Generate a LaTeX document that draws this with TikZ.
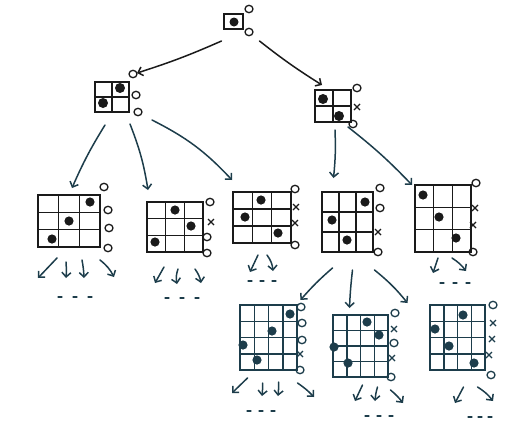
\documentclass[tikz,border=0pt]{standalone}
\usetikzlibrary{arrows.meta}
\definecolor{ink}{HTML}{1A1A1A}
\definecolor{teal}{HTML}{1D3D4B}
\tikzset{
  boardbox/.style={draw, line width=1.8pt, inner sep=0pt, outer sep=0pt},
  gridline/.style={line width=1.5pt},
  mk/.style={line width=1.3pt},
  arr/.style={line width=1.5pt, -{Straight Barb[length=4.5pt,width=9pt]}, line cap=round},
  dashes/.style={line width=1.1pt, line cap=round},
}
% board: name, x1, y1, x2, y2, n, colour
\newcommand\qboard[7]{%
  \node[boardbox, draw=#7, minimum width={(#4-#2)*1pt}, minimum height={(#5-#3)*1pt}]
    (#1) at ({(#2+#4)/2},{(#3+#5)/2}) {};
  \pgfmathtruncatemacro\qn{#6-1}
  \ifnum\qn>0
  \foreach \i in {1,...,\qn}{
    \draw[gridline, #7] ({#2+\i*(#4-#2)/#6},#3) -- ({#2+\i*(#4-#2)/#6},#5);
    \draw[gridline, #7] (#2,{#3+\i*(#5-#3)/#6}) -- (#4,{#3+\i*(#5-#3)/#6});
  }\fi
}
\newcommand\qdots[3]{\foreach \p in {#3}{\fill[#1] \p circle (#2);}}
\newcommand\qo[3]{\draw[mk,#1] (#2,#3) ellipse (4 and 3.7);}
\newcommand\qx[3]{\draw[mk,#1] (#2-3,#3-3) -- (#2+3,#3+3) (#2-3,#3+3) -- (#2+3,#3-3);}
% three dashes: colour, x, y, width of span
\newcommand\qdash[4]{\foreach \k in {0,1,2}{\draw[dashes,#1] ({#2+\k*#4/2-2},#3) -- ({#2+\k*#4/2+2},#3);}}
\begin{document}
\begin{tikzpicture}[x=1pt,y=-1pt]
\useasboundingbox (0,0) rectangle (506,437);
% root
\qboard{root}{224}{14}{243}{29}{1}{ink}
\qdots{ink}{4.5}{(234,22)}
\qo{ink}{249}{9} \qo{ink}{249}{32}
% level 1
\qboard{la}{95}{82}{129}{112}{2}{ink}
\qdots{ink}{5}{(120,88),(103,103)}
\qo{ink}{133}{74} \qo{ink}{136}{95} \qo{ink}{138}{112}
\qboard{lb}{315}{90}{351}{122}{2}{ink}
\qdots{ink}{5}{(323,99),(339,116)}
\qo{ink}{357}{88} \qx{ink}{357}{107} \qo{ink}{353}{124}
% level 2
\qboard{ba}{38}{195}{100}{247}{3}{ink}
\qdots{ink}{4.6}{(90,202),(69,221),(52,239)}
\qo{ink}{104}{187} \qo{ink}{108}{210} \qo{ink}{109}{228} \qo{ink}{108}{248}
\qboard{bb}{147}{202}{203}{252}{3}{ink}
\qdots{ink}{4.6}{(175,210),(191,226),(155,242)}
\qo{ink}{210}{202} \qx{ink}{211}{222} \qo{ink}{207}{237} \qo{ink}{207}{253}
\qboard{bc}{233}{192}{291}{243}{3}{ink}
\qdots{ink}{4.6}{(261,200),(245,217),(278,233)}
\qo{ink}{295}{189} \qx{ink}{296}{207} \qx{ink}{295}{223} \qo{ink}{295}{245}
\qboard{bd}{322}{192}{373}{252}{3}{ink}
\qdots{ink}{4.6}{(365,202),(332,220),(347,240)}
\qo{ink}{380}{188} \qo{ink}{380}{208} \qx{ink}{378}{232} \qo{ink}{378}{252}
\qboard{be}{415}{185}{471}{252}{3}{ink}
\qdots{ink}{4.6}{(423,195),(439,217),(456,238)}
\qo{ink}{476}{183} \qx{ink}{475}{208} \qx{ink}{473}{225} \qo{ink}{473}{252}
% level 3
\qboard{ca}{240}{305}{297}{370}{4}{teal}
\qdots{teal}{4.6}{(290,314),(272,331),(243,345),(257,360)}
\qo{teal}{301}{307} \qo{teal}{302}{323} \qo{teal}{302}{340} \qx{teal}{300}{354} \qo{teal}{300}{370}
\qboard{cb}{333}{315}{388}{377}{4}{teal}
\qdots{teal}{4.6}{(367,322),(379,335),(334,347),(348,363)}
\qo{teal}{395}{313} \qx{teal}{394}{329} \qo{teal}{394}{343} \qx{teal}{392}{358} \qo{teal}{391}{377}
\qboard{cc}{430}{305}{485}{370}{4}{teal}
\qdots{teal}{4.6}{(463,315),(435,329),(449,346),(474,363)}
\qo{teal}{493}{305} \qx{teal}{493}{323} \qx{teal}{492}{339} \qx{teal}{489}{355} \qo{teal}{491}{375}
% arrows root -> level 1
\draw[arr, ink] ([xshift=-12pt,yshift=-12pt]root.south) to[bend left=3] ([xshift=25pt,yshift=9pt]la.north);
\draw[arr, ink] ([xshift=26pt,yshift=-12pt]root.south) to[bend right=3] ([xshift=-11pt,yshift=5pt]lb.north);
% level 1 -> level 2
\draw[arr, teal] ([xshift=-7pt,yshift=-13pt]la.south) to[bend right=4] ([xshift=3pt,yshift=7pt]ba.north);
\draw[arr, teal] ([xshift=18pt,yshift=-12pt]la.south) to[bend left=6] ([xshift=-27pt,yshift=12pt]bb.north);
\draw[arr, teal] ([xshift=40pt,yshift=-8pt]la.south) to[bend left=10] ([xshift=-30pt,yshift=12pt]bc.north);
\draw[arr, teal] ([xshift=2pt,yshift=-8pt]lb.south) to[bend left=4] ([xshift=-14pt,yshift=14pt]bd.north);
\draw[arr, teal] ([xshift=15pt,yshift=-5pt]lb.south) to[bend left=4] ([xshift=-31pt,yshift=0pt]be.north);
% level 2 -> level 3
\draw[arr, teal] ([xshift=-15pt,yshift=-16pt]bd.south) to[bend right=4] ([xshift=32pt,yshift=5pt]ca.north);
\draw[arr, teal] ([xshift=5pt,yshift=-18pt]bd.south) to[bend right=2] ([xshift=-11pt,yshift=7pt]cb.north);
\draw[arr, teal] ([xshift=27pt,yshift=-18pt]bd.south) to[bend left=6] ([xshift=47pt,yshift=12pt]cb.north);
% leaf arrows
\coordinate (a1) at (38,278); \coordinate (a2) at (66,278); \coordinate (a3) at (84,278); \coordinate (a4) at (114,277);
\draw[arr, teal] ([xshift=-12pt,yshift=-11pt]ba.south) -- (a1);
\draw[arr, teal] ([xshift=-3pt,yshift=-15pt]ba.south) to[bend left=4] (a2);
\draw[arr, teal] ([xshift=13pt,yshift=-13pt]ba.south) to[bend left=4] (a3);
\draw[arr, teal] ([xshift=31pt,yshift=-13pt]ba.south) to[bend left=12] (a4);
\qdash{teal}{60}{297}{30}
\coordinate (b1) at (155,283); \coordinate (b2) at (177,284); \coordinate (b3) at (201,283);
\draw[arr, teal] ([xshift=-11pt,yshift=-15pt]bb.south) -- (b1);
\draw[arr, teal] ([xshift=3pt,yshift=-17pt]bb.south) to[bend right=15] (b2);
\draw[arr, teal] ([xshift=20pt,yshift=-17pt]bb.south) to[bend left=12] (b3);
\qdash{teal}{167}{298}{30}
\coordinate (c1) at (250,272); \coordinate (c2) at (273,271);
\draw[arr, teal] ([xshift=-4pt,yshift=-12pt]bc.south) -- (c1);
\draw[arr, teal] ([xshift=5pt,yshift=-12pt]bc.south) to[bend left=15] (c2);
\qdash{teal}{250}{281}{24}
\coordinate (e1) at (433,273); \coordinate (e2) at (466,271);
\draw[arr, teal] ([xshift=-5pt,yshift=-6pt]be.south) -- (e1);
\draw[arr, teal] ([xshift=9pt,yshift=-6pt]be.south) to[bend left=10] (e2);
\qdash{teal}{442}{283}{26}
\coordinate (f1) at (232,393); \coordinate (f2) at (262,396); \coordinate (f3) at (278,396); \coordinate (f4) at (314,397);
\draw[arr, teal] ([xshift=-21pt,yshift=-8pt]ca.south) -- (f1);
\draw[arr, teal] ([xshift=-6pt,yshift=-13pt]ca.south) to[bend left=4] (f2);
\draw[arr, teal] ([xshift=10pt,yshift=-12pt]ca.south) to[bend left=4] (f3);
\draw[arr, teal] ([xshift=29pt,yshift=-13pt]ca.south) to[bend left=6] (f4);
\qdash{teal}{249}{411}{24}
\coordinate (g1) at (355,401); \coordinate (g2) at (375,401); \coordinate (g3) at (403,403);
\draw[arr, teal] ([xshift=2pt,yshift=-8pt]cb.south) -- (g1);
\draw[arr, teal] ([xshift=17pt,yshift=-10pt]cb.south) to[bend right=6] (g2);
\draw[arr, teal] ([xshift=30pt,yshift=-13pt]cb.south) to[bend left=6] (g3);
\qdash{teal}{367}{416}{24}
\coordinate (h1) at (455,403); \coordinate (h2) at (493,401);
\draw[arr, teal] ([xshift=6pt,yshift=-17pt]cc.south) -- (h1);
\draw[arr, teal] ([xshift=20pt,yshift=-17pt]cc.south) to[bend left=10] (h2);
\qdash{teal}{470}{417}{20}
\end{tikzpicture}
\end{document}
